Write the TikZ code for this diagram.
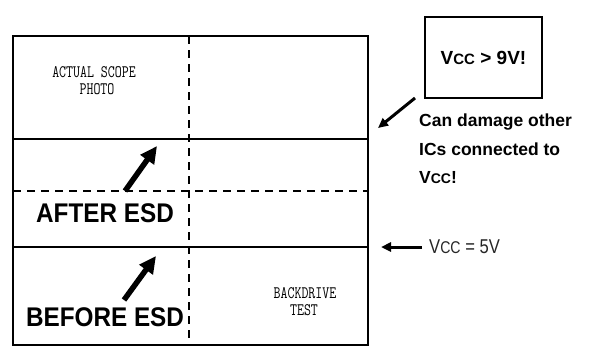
\documentclass[tikz,border=0pt]{standalone}
\usepackage{fontspec}
\setmainfont{Liberation Sans}
\usetikzlibrary{arrows.meta}

\begin{document}
\begin{tikzpicture}[x=1pt,y=-1pt,>=Triangle]

        % Styles
        \tikzset{
          frame/.style={line width=2pt},
          divider/.style={line width=1.8pt,dash pattern=on 8pt off 6pt},
          bigarrow/.style={-{Triangle[length=17pt,width=16pt]},line width=5.5pt},
          smallarrow/.style={-{Triangle[length=10pt,width=9pt]},line width=3pt},
          scopetext/.style={inner sep=0pt,
                       font=\ttfamily\fontsize{13.5}{17}\selectfont},
          esdtext/.style={inner sep=0pt,
                       font=\bfseries\fontsize{27}{30}\selectfont},
          notetext/.style={inner sep=0pt,align=left,
                       font=\bfseries\fontsize{17.5}{28.5}\selectfont}
        }
        \newcommand{\vccsub}[1]{V{\fontsize{#1}{#1}\selectfont CC}}
        \newcommand{\tall}[1]{\scalebox{1}[1.3]{#1}}

        \useasboundingbox (0,0) rectangle (602,349);

        % y-coordinates for rows
        \def\ytop{36}      % top edge
        \def\ylevA{139}    % first solid line
        \def\ylevB{191}    % dashed line
        \def\ylevC{247}    % second solid line
        \def\ybot{345}     % bottom edge
        \def\xmid{189}     % dashed column

        %-------------------------------
        % Scope screen frame
        %-------------------------------
        \draw[frame] (13,\ytop) rectangle (368,\ybot);
        \draw[frame] (13,\ylevA) -- (368,\ylevA);
        \draw[frame] (13,\ylevC) -- (368,\ylevC);
        \draw[divider] (13,\ylevB) -- (368,\ylevB);
        \draw[divider] (\xmid,\ytop) -- (\xmid,\ybot);

        %-------------------------------
        % Labels inside the frame (one node per line)
        %-------------------------------
        \node[scopetext] (photoA) at (94,72) {\tall{ACTUAL SCOPE}};
        \node[scopetext] (photoB) at (97,89) {\tall{PHOTO}};
        \node[scopetext] (backA) at (305,293) {\tall{BACKDRIVE}};
        \node[scopetext] (backB) at (304,310) {\tall{TEST}};
        \node[esdtext] (after) at (105,213) {\scalebox{0.9}[1]{AFTER ESD}};
        \node[esdtext] (before) at (105,317) {\scalebox{0.9}[1]{BEFORE ESD}};

        % Arrows from the labels to the traces
        \coordinate (afterTail) at (125,191);
        \coordinate (afterTip) at (157,146);
        \coordinate (beforeTail) at (124,300);
        \coordinate (beforeTip) at (156,256);
        \draw[bigarrow] (afterTail) -- (afterTip);
        \draw[bigarrow] (beforeTail) -- (beforeTip);

        %-------------------------------
        % Notes on the right
        %-------------------------------
        \node[draw,line width=1.2pt,minimum width=117pt,minimum height=81pt,
              inner sep=0pt,font=\bfseries\fontsize{19}{21}\selectfont]
              (warn) at (483.5,57.5) {\vccsub{15} > 9V!};

        \node[notetext,anchor=north west] (damage) at (419,114)
              {Can damage other\\ICs connected to\\\vccsub{14}!};
        \coordinate (damageTail) at (415,98);
        \coordinate (damageTip) at (378,128);
        \draw[smallarrow] (damageTail) -- (damageTip);

        \node[anchor=west,inner sep=0pt,text=black!85] (vcc) at (429,247)
              {\scalebox{0.83}[1]{\fontsize{20}{22}\selectfont\vccsub{17} = 5V}};
        \coordinate (vccTip) at (381,247);
        \draw[smallarrow] (vcc.west) ++(-7,0) -- (vccTip);

\end{tikzpicture}
\end{document}
